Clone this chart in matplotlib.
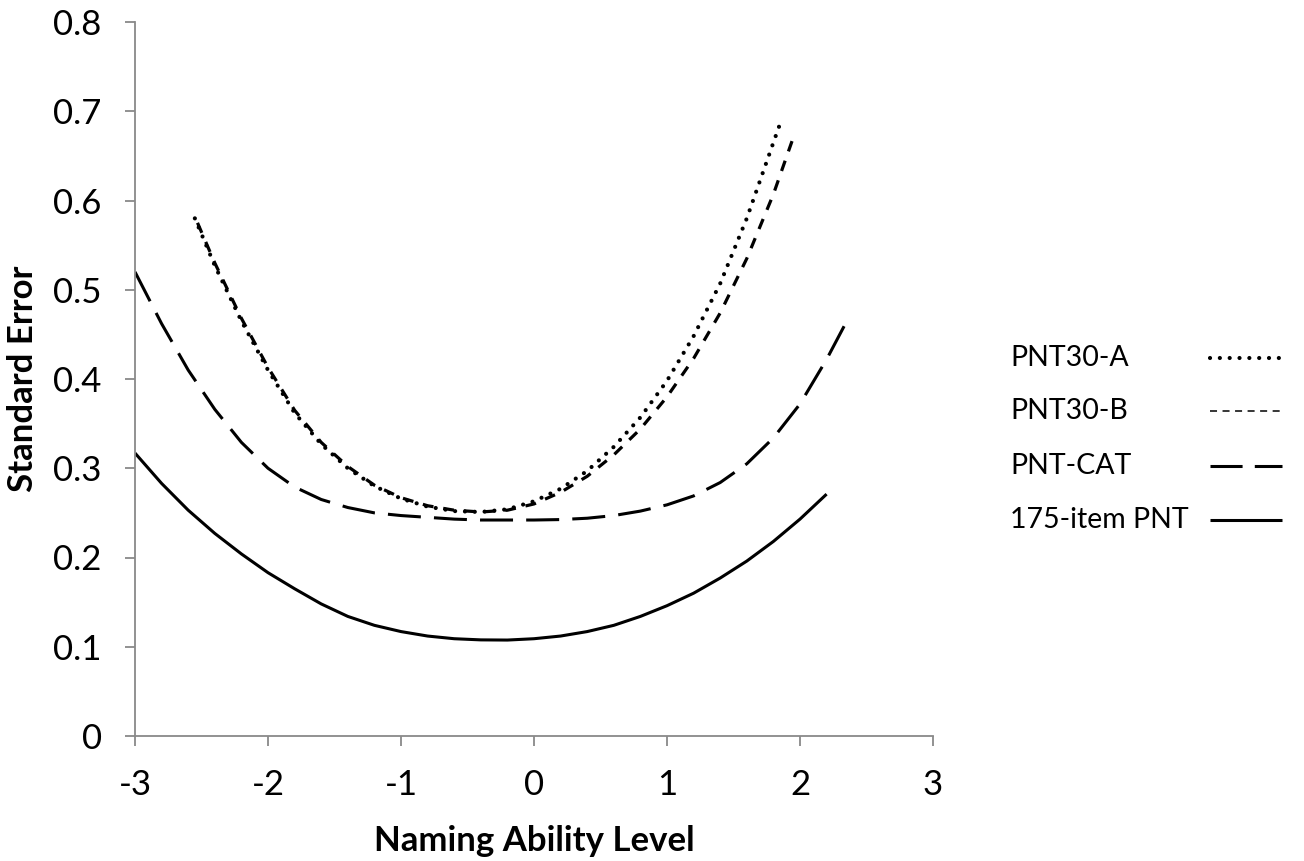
import matplotlib
matplotlib.use("Agg")
import matplotlib.pyplot as plt
from matplotlib.lines import Line2D

plt.rcParams['font.family'] = ['Lato', 'DejaVu Sans']
plt.rcParams['axes.unicode_minus'] = False

# values
x_a = [-2.55, -2.4, -2.2, -2.0, -1.8, -1.6, -1.4, -1.2, -1.0, -0.8, -0.6, -0.4, -0.2,
       0.0, 0.2, 0.4, 0.6, 0.8, 1.0, 1.2, 1.4, 1.6, 1.8, 1.85]
se_a = [0.580, 0.527, 0.465, 0.410, 0.362, 0.327, 0.300, 0.280, 0.266, 0.257, 0.252, 0.251, 0.254,
        0.263, 0.277, 0.297, 0.324, 0.357, 0.398, 0.448, 0.507, 0.580, 0.665, 0.686]

x_b = [-2.53, -2.4, -2.2, -2.0, -1.8, -1.6, -1.4, -1.2, -1.0, -0.8, -0.6, -0.4, -0.2,
       0.0, 0.2, 0.4, 0.6, 0.8, 1.0, 1.2, 1.4, 1.6, 1.8, 1.96]
se_b = [0.575, 0.530, 0.468, 0.413, 0.365, 0.329, 0.302, 0.281, 0.267, 0.258, 0.253, 0.251, 0.253,
        0.260, 0.273, 0.291, 0.315, 0.344, 0.380, 0.423, 0.474, 0.535, 0.607, 0.675]

x_cat = [-3.0, -2.8, -2.6, -2.4, -2.2, -2.0, -1.8, -1.6, -1.4, -1.2, -1.0, -0.8, -0.6, -0.4, -0.2,
         0.0, 0.2, 0.4, 0.6, 0.8, 1.0, 1.2, 1.4, 1.6, 1.8, 2.0, 2.2, 2.37]
se_cat = [0.520, 0.462, 0.410, 0.366, 0.329, 0.300, 0.279, 0.265, 0.256, 0.250, 0.247, 0.245, 0.243, 0.242, 0.242,
          0.242, 0.2425, 0.244, 0.247, 0.252, 0.259, 0.269, 0.284, 0.305, 0.334, 0.372, 0.422, 0.470]

x_full = [-3.0, -2.8, -2.6, -2.4, -2.2, -2.0, -1.8, -1.6, -1.4, -1.2, -1.0, -0.8, -0.6, -0.4, -0.2,
          0.0, 0.2, 0.4, 0.6, 0.8, 1.0, 1.2, 1.4, 1.6, 1.8, 2.0, 2.2]
se_full = [0.317, 0.283, 0.253, 0.227, 0.204, 0.183, 0.165, 0.148, 0.134, 0.124, 0.117, 0.112, 0.109, 0.1077, 0.1075,
           0.109, 0.112, 0.117, 0.124, 0.134, 0.146, 0.160, 0.177, 0.196, 0.218, 0.243, 0.271]

labels = ["PNT30-A", "PNT30-B", "PNT-CAT", "175-item PNT"]

gray = "#898989"

fig = plt.figure(figsize=(13.04, 8.61), dpi=100)
ax = fig.add_axes([135 / 1304, 1 - 736 / 861, (933 - 135) / 1304, (736 - 22) / 861])

ax.plot(x_a, se_a, color="black", lw=3.0, linestyle=(0, (0.01, 2.35)), dash_capstyle="round")
ax.plot(x_b, se_b, color="black", lw=2.3, linestyle=(0, (3.4, 3.1)))
ax.plot(x_cat, se_cat, color="black", lw=2.2, linestyle=(0, (10.8, 4.3)))
ax.plot(x_full, se_full, color="black", lw=2.2, solid_capstyle="butt")

ax.set_xlim(-3, 3)
ax.set_ylim(0, 0.8)
ax.set_xticks([-3, -2, -1, 0, 1, 2, 3])
ax.set_xticklabels(["-3", "-2", "-1", "0", "1", "2", "3"])
ax.set_yticks([0, 0.1, 0.2, 0.3, 0.4, 0.5, 0.6, 0.7, 0.8])
ax.set_yticklabels(["0", "0.1", "0.2", "0.3", "0.4", "0.5", "0.6", "0.7", "0.8"])

ax.spines["top"].set_visible(False)
ax.spines["right"].set_visible(False)
ax.spines["left"].set_color(gray)
ax.spines["bottom"].set_color(gray)
ax.spines["left"].set_linewidth(1.3)
ax.spines["bottom"].set_linewidth(1.3)
ax.tick_params(axis="both", direction="out", length=7, width=1.3, color=gray, labelsize=25)
ax.tick_params(axis="y", pad=17)
ax.tick_params(axis="x", pad=17)

ax.set_xlabel("Naming Ability Level", fontsize=25, weight="bold", labelpad=17)
ax.set_ylabel("Standard Error", fontsize=25, weight="bold", labelpad=10)

# legend drawn by hand: text on the left, line samples lined up on the right
styles = [
    dict(lw=3.0, linestyle=(0, (0.01, 2.35)), dash_capstyle="round"),
    dict(lw=1.1, linestyle=(0, (4.6, 3.6))),
    dict(lw=2.2, linestyle=(0, (10.5, 4.0))),
    dict(lw=2.2, solid_capstyle="butt"),
]
rows_y = [358, 411, 466, 520]
for lab, st, ry in zip(labels, styles, rows_y):
    yf = 1 - ry / 861
    fig.text(1010 / 1304, yf, lab, fontsize=20.5, va="center", ha="left")
    fig.add_artist(Line2D([1210 / 1304, 1282 / 1304], [yf, yf], color="black",
                          transform=fig.transFigure, **st))

fig.savefig("out.png", dpi=100)
